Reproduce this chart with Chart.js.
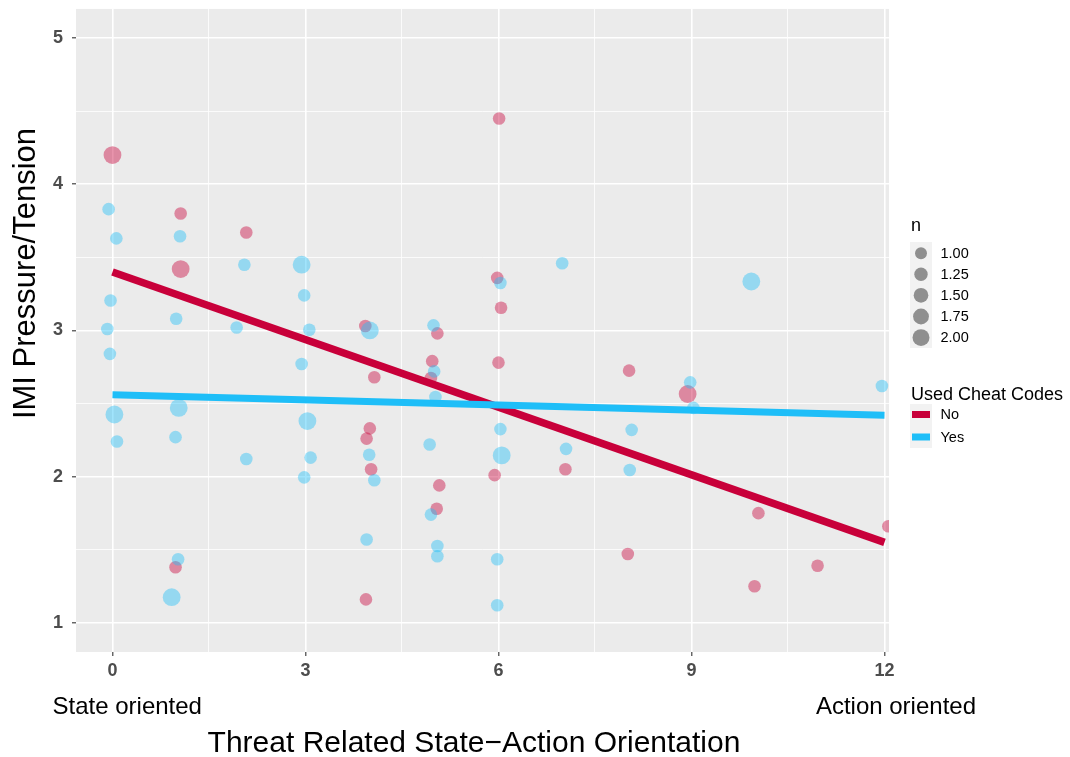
<!DOCTYPE html>
<html><head><meta charset="utf-8">
<script src="https://cdn.jsdelivr.net/npm/chart.js@4.4.1/dist/chart.umd.min.js"></script>
<style>html,body{margin:0;padding:0;background:#fff;}#wrap{width:1070px;height:757px;position:relative;}</style>
</head><body><div id="wrap"><canvas id="c"></canvas></div>
<script>
// ---- data ----
const noX = [0, 1.06, 1.06, 2.08, 0.98, 6.01, 5.98, 6.04, 3.93, 5.05, 4.97, 6.0, 4.07, 4.95, 4.0, 3.95, 4.02, 5.08, 5.04, 3.94, 5.94, 7.04, 8.03, 8.94, 10.04, 12.06, 8.01, 10.96, 9.98];
const noY = [4.20, 3.80, 3.42, 3.67, 1.38, 4.45, 3.36, 3.155, 3.03, 2.98, 2.79, 2.78, 2.68, 2.675, 2.33, 2.26, 2.05, 1.94, 1.78, 1.16, 2.01, 2.05, 2.725, 2.565, 1.75, 1.66, 1.47, 1.39, 1.25];
const noN = [2, 1, 2, 1, 1, 1, 1, 1, 1, 1, 1, 1, 1, 1, 1, 1, 1, 1, 1, 1, 1, 1, 1, 2, 1, 1, 1, 1, 1];

const yesX = [-0.06, 0.06, 1.05, 2.05, 2.94, 2.98, -0.03, 0.99, 1.93, 3.06, -0.08, -0.04, 2.94, 0.03, 1.03, 3.03, 0.07, 0.98, 2.08, 3.08, 2.98, 1.02, 0.92, 6.99, 6.03, 4.0, 4.99, 5.0, 5.02, 3.99, 4.07, 4.93, 4.95, 5.05, 5.05, 3.95, 6.03, 6.05, 5.98, 5.98, 7.05, 9.93, 8.98, 9.03, 11.96, 8.07, 8.04];
const yesY = [3.83, 3.63, 3.645, 3.45, 3.45, 3.24, 3.205, 3.08, 3.02, 3.005, 3.01, 2.84, 2.77, 2.425, 2.47, 2.38, 2.24, 2.27, 2.12, 2.13, 1.995, 1.435, 1.175, 3.46, 3.325, 3.0, 3.035, 2.72, 2.545, 2.15, 1.975, 2.22, 1.74, 1.525, 1.455, 1.57, 2.325, 2.145, 1.435, 1.12, 2.19, 3.335, 2.645, 2.47, 2.62, 2.32, 2.045];
const yesN = [1, 1, 1, 1, 2, 1, 1, 1, 1, 1, 1, 1, 1, 2, 2, 2, 1, 1, 1, 1, 1, 1, 2, 1, 1, 2, 1, 1, 1, 1, 1, 1, 1, 1, 1, 1, 1, 2, 1, 1, 1, 2, 1, 1, 1, 1, 1];

const fitX = [0, 12];
const noFit = [3.40, 1.55];
const yesFit = [2.56, 2.42];

const xMajor = [0, 3, 6, 9, 12];
const xMinor = [1.5, 4.5, 7.5, 10.5];
const xTickLabels = ['0', '3', '6', '9', '12'];
const yMajor = [1, 2, 3, 4, 5];
const yMinor = [1.5, 2.5, 3.5, 4.5];
const yTickLabels = ['1', '2', '3', '4', '5'];

const sizeBreaks = [1, 1.25, 1.5, 1.75, 2];
const sizeLabels = ['1.00', '1.25', '1.50', '1.75', '2.00'];
const groupLabels = ['No', 'Yes'];
const sizeTitle = 'n';
const groupTitle = 'Used Cheat Codes';
const xTitle = 'Threat Related State\u2212Action Orientation';
const yTitle = 'IMI Pressure/Tension';
const xLeftNote = 'State oriented';
const xRightNote = 'Action oriented';

// ---- styles ----
const FONT = "'Liberation Sans', Arial, Helvetica, sans-serif";
const RED = '#C8003A', BLUE = '#1EBEF8';
const RED_PT = 'rgba(200,0,58,0.42)', BLUE_PT = 'rgba(30,190,248,0.42)';
const rad = n => 6.3 * Math.sqrt(n);

const pts = (xs, ys) => xs.map((x, i) => ({x: x, y: ys[i]}));

const panelBg = {
  id: 'panelBg',
  beforeDraw(chart) {
    const {ctx, chartArea: a} = chart;
    ctx.save();
    ctx.fillStyle = '#EBEBEB';
    ctx.fillRect(a.left, a.top, a.right - a.left, a.bottom - a.top);
    ctx.restore();
  }
};

const extras = {
  id: 'extras',
  afterDraw(chart) {
    const ctx = chart.ctx;
    ctx.save();
    ctx.fillStyle = '#000';
    ctx.textBaseline = 'alphabetic';
    ctx.font = '24px ' + FONT;
    ctx.textAlign = 'left';
    ctx.fillText(xLeftNote, 52.5, 714);
    ctx.textAlign = 'right';
    ctx.fillText(xRightNote, 976, 714);
    ctx.font = '30px ' + FONT;
    ctx.textAlign = 'center';
    ctx.fillText(xTitle, 474, 752);
    ctx.save();
    ctx.translate(35, 273.5);
    ctx.rotate(-Math.PI / 2);
    ctx.font = '31px ' + FONT;
    ctx.fillText(yTitle, 0, 0);
    ctx.restore();

    // size legend
    ctx.font = '18px ' + FONT;
    ctx.textAlign = 'left';
    ctx.fillText(sizeTitle, 911, 231);
    ctx.fillStyle = '#F2F2F2';
    ctx.fillRect(910, 242, 22, 106);
    const ys = [253.3, 274.3, 295.3, 316.5, 337.6];
    ctx.font = '14.5px ' + FONT;
    sizeBreaks.forEach((n, i) => {
      ctx.fillStyle = '#8F8F8F';
      ctx.beginPath();
      ctx.arc(921, ys[i], rad(n) * 0.95, 0, Math.PI * 2);
      ctx.fill();
      ctx.fillStyle = '#000';
      ctx.textBaseline = 'middle';
      ctx.fillText(sizeLabels[i], 940.5, ys[i] + 0.5);
    });

    // colour legend
    ctx.textBaseline = 'alphabetic';
    ctx.font = '18px ' + FONT;
    ctx.fillText(groupTitle, 911, 399.5);
    ctx.fillStyle = '#F2F2F2';
    ctx.fillRect(910, 404, 22, 44);
    const cols = [RED, BLUE];
    const ky = [414.5, 437];
    ctx.font = '14.5px ' + FONT;
    groupLabels.forEach((g, i) => {
      ctx.fillStyle = cols[i];
      ctx.fillRect(912, ky[i] - 3.5, 18, 7);
      ctx.fillStyle = '#000';
      ctx.textBaseline = 'middle';
      ctx.fillText(g, 940.5, ky[i] + 0.5);
    });
    ctx.restore();
  }
};

const isIn = (arr, v) => arr.some(a => Math.abs(a - v) < 1e-9);

function gridOpts(major) {
  return {
    color: '#FFFFFF',
    lineWidth: c => (c.tick && isIn(major, c.tick.value)) ? 1.6 : 0.8,
    drawTicks: true,
    tickLength: 4,
    tickWidth: 1.1,
    tickColor: c => (c.tick && isIn(major, c.tick.value)) ? '#333333' : 'rgba(0,0,0,0)'
  };
}

new Chart(document.getElementById('c'), {
  type: 'scatter',
  data: {
    datasets: [
      {type: 'line', label: 'Yes fit', data: pts(fitX, yesFit), borderColor: BLUE, borderWidth: 7, pointRadius: 0, fill: false, order: 0, borderCapStyle: 'butt'},
      {type: 'line', label: 'No fit', data: pts(fitX, noFit), borderColor: RED, borderWidth: 7.5, pointRadius: 0, fill: false, order: 1, borderCapStyle: 'butt'},
      {label: 'Yes', data: pts(yesX, yesY), backgroundColor: BLUE_PT, borderWidth: 0, pointRadius: c => rad(yesN[c.dataIndex]), order: 2},
      {label: 'No', data: pts(noX, noY), backgroundColor: RED_PT, borderWidth: 0, pointRadius: c => rad(noN[c.dataIndex]), order: 3}
    ]
  },
  options: {
    responsive: true,
    maintainAspectRatio: false,
    animation: false,
    devicePixelRatio: 1,
    layout: {padding: {top: 8, right: 181, left: 0, bottom: 0}},
    plugins: {legend: {display: false}, tooltip: {enabled: false}},
    scales: {
      x: {
        type: 'linear', min: -0.567, max: 12.07,
        afterBuildTicks: s => { s.ticks = xMajor.concat(xMinor).sort((a, b) => a - b).map(v => ({value: v})); },
        afterFit: s => { s.height = 105; s.paddingLeft = 0; s.paddingRight = 0; },
        grid: gridOpts(xMajor),
        border: {display: false},
        ticks: {
          autoSkip: false, maxRotation: 0, padding: 4,
          color: '#4D4D4D', font: {family: FONT, size: 18, weight: 'bold'},
          callback: v => { const i = xMajor.findIndex(a => Math.abs(a - v) < 1e-9); return i >= 0 ? xTickLabels[i] : ''; }
        }
      },
      y: {
        type: 'linear', min: 0.8, max: 5.2,
        afterBuildTicks: s => { s.ticks = yMajor.concat(yMinor).sort((a, b) => a - b).map(v => ({value: v})); },
        afterFit: s => { s.width = 76; s.paddingTop = 0; s.paddingBottom = 0; },
        grid: gridOpts(yMajor),
        border: {display: false},
        ticks: {
          autoSkip: false, padding: 9,
          color: '#4D4D4D', font: {family: FONT, size: 18, weight: 'bold'},
          callback: v => { const i = yMajor.findIndex(a => Math.abs(a - v) < 1e-9); return i >= 0 ? yTickLabels[i] : ''; }
        }
      }
    }
  },
  plugins: [panelBg, extras]
});
</script>
</body></html>
